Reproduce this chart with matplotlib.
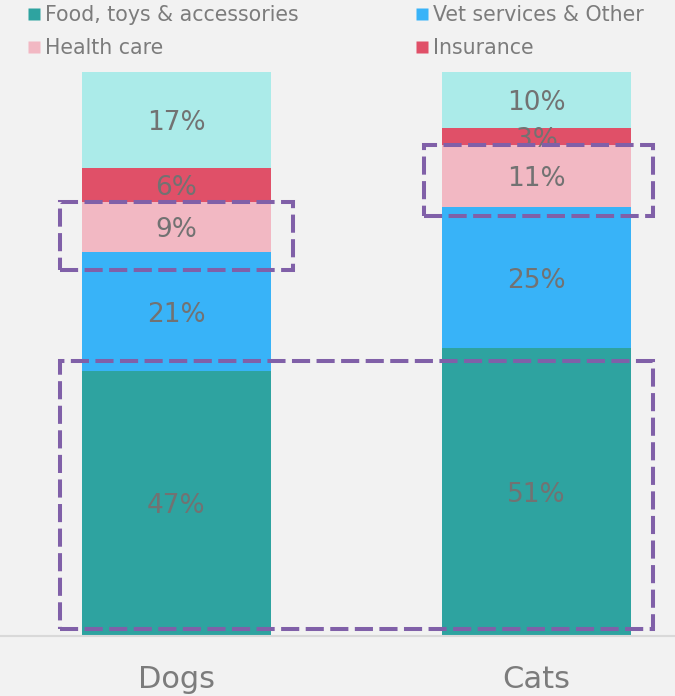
import matplotlib
matplotlib.use("Agg")
import matplotlib.pyplot as plt
from matplotlib.patches import Rectangle
from matplotlib.lines import Line2D

plt.rcParams['font.family'] = ['DejaVu Sans']

# Data
pets = ["Dogs", "Cats"]
categories = ["Food, toys & accessories", "Vet services & Other", "Health care", "Insurance", "Other"]
dogs = [47, 21, 9, 6, 17]
cats = [51, 25, 11, 3, 10]
colors = ["#2ea3a0", "#38b3f8", "#f2b8c3", "#e05068", "#abebe9"]
legend_items = ["Food, toys & accessories", "Health care", "Vet services & Other", "Insurance"]

BG = "#f2f2f2"
TXT = "#727272"
LEG = "#7c7c7c"
BOX = "#8060a8"

fig = plt.figure(figsize=(6.75, 6.96), dpi=100, facecolor=BG)
W, H = 675, 696
x0, x1 = 176.5, 536.5
unit = x1 - x0
ybot, ytop = 636, 72
ax = fig.add_axes([0, (H - ybot) / H, 1, (ybot - ytop) / H])
ax.set_facecolor(BG)
ax.set_xlim(-x0 / unit, (W - x0) / unit)
ax.set_ylim(0, 100)

width = 189 / unit
xs = [0, 1]
series = [dogs, cats]
for xi, vals in zip(xs, series):
    bottom = 0
    for v, c in zip(vals, colors):
        ax.bar(xi, v, width=width, bottom=bottom, color=c, edgecolor="none")
        ax.text(xi, bottom + v / 2, f"{v}%", ha="center", va="center_baseline",
                fontsize=19, color=TXT)
        bottom += v

# Highlight boxes around health-care segments and the food segments
def box(xa, xb, ya, yb):
    r = Rectangle((xa, ya), xb - xa, yb - ya, fill=False, edgecolor=BOX,
                  linewidth=2.9, linestyle=(0, (4.5, 1.6)), clip_on=False, zorder=5)
    ax.add_patch(r)

hw = width / 2
low_pads = [3.1, 1.5]
left_pads = [0.06, 0.05]
for xi, vals, lp, sp in zip(xs, series, low_pads, left_pads):
    lo = sum(vals[:2])
    hi = lo + vals[2]
    box(xi - hw - sp, xi + hw + 0.06, lo - lp, hi)
box(-hw - 0.06, 1 + hw + 0.062, 1.2, 48.8)

# Axes styling
for s in ["top", "left", "right"]:
    ax.spines[s].set_visible(False)
ax.spines["bottom"].set_color("#d9d9d9")
ax.spines["bottom"].set_linewidth(1.5)
ax.set_yticks([])
ax.set_xticks(xs)
ax.set_xticklabels(pets, fontsize=22, color=LEG)
ax.tick_params(axis="x", length=0, pad=21)

# Legend
handles = [Line2D([], [], marker="s", linestyle="none", markersize=8,
                  markerfacecolor=colors[categories.index(n)], markeredgecolor="none")
           for n in legend_items]
fig.legend(handles, legend_items, loc="upper left", bbox_to_anchor=(0.007, 1.019),
           ncol=2, frameon=False, fontsize=14.8, labelcolor=LEG,
           handletextpad=0.05, columnspacing=5.5, labelspacing=0.62, handlelength=1.0)

fig.savefig("out.png", dpi=100, facecolor=BG)
